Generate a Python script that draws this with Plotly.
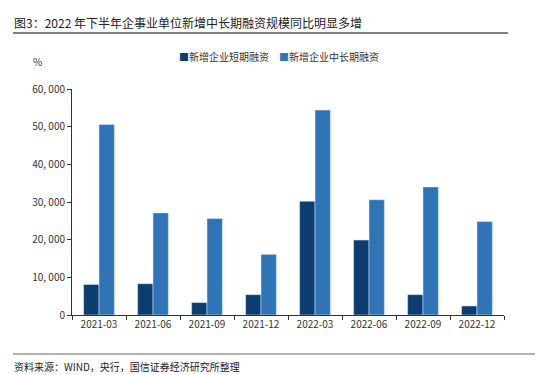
import plotly.graph_objects as go

categories = ["2021-03", "2021-06", "2021-09", "2021-12", "2022-03", "2022-06", "2022-09", "2022-12"]
short_term = [8100, 8300, 3300, 5400, 30200, 19900, 5400, 2400]
long_term = [50600, 27100, 25600, 16100, 54400, 30600, 34000, 24800]
y_tick_vals = [0, 10000, 20000, 30000, 40000, 50000, 60000]
y_tick_text = ["0", "10, 000", "20, 000", "30, 000", "40, 000", "50, 000", "60, 000"]
series_names = ["新增企业短期融资", "新增企业中长期融资"]
series_colors = ["#0B3D70", "#2F74B7"]

FONT = "Noto Sans CJK SC"
W, H = 550, 375
L, R, T, B = 72, 46, 89, 60
PW, PH = W - L - R, H - T - B


def px(x):
    return (x - L) / PW


def py(y):
    return (H - B - y) / PH


fig = go.Figure()
fig.add_trace(go.Bar(name=series_names[0], x=categories, y=short_term, marker_color=series_colors[0]))
fig.add_trace(go.Bar(name=series_names[1], x=categories, y=long_term, marker_color=series_colors[1]))

fig.update_layout(
    width=W, height=H,
    margin=dict(l=L, r=R, t=T, b=B, autoexpand=False),
    paper_bgcolor="white", plot_bgcolor="white",
    barmode="group", bargap=0.43, bargroupgap=0,
    font=dict(family=FONT, size=10, color="#333333"),
    showlegend=False,
    xaxis=dict(type="category", showline=True, linecolor="#333333", linewidth=1,
               ticks="outside", ticklen=4, tickcolor="#333333", tickson="boundaries",
               tickfont=dict(size=10, color="#333333"), showgrid=False, automargin=False),
    yaxis=dict(range=[0, 60000], tickvals=y_tick_vals, ticktext=y_tick_text,
               showline=True, linecolor="#333333", linewidth=1, ticks="outside", ticklen=4,
               tickcolor="#333333", showgrid=False, zeroline=False, automargin=False,
               tickfont=dict(size=10, color="#333333")),
)

# legend drawn as text entries
for name, color, xpos in zip(series_names, series_colors, [177, 277]):
    fig.add_annotation(text=f"<span style='color:{color}'>■</span>{name}", x=px(xpos), y=py(56),
                       xref="paper", yref="paper", xanchor="left", yanchor="middle", showarrow=False,
                       font=dict(size=10, color="#333333"))

fig.add_annotation(text="图3：2022 年下半年企事业单位新增中长期融资规模同比明显多增", x=px(12), y=py(22),
                   xref="paper", yref="paper", xanchor="left", yanchor="middle", showarrow=False,
                   font=dict(size=12, color="#222222"))
fig.add_annotation(text="%", x=px(37), y=py(61), xref="paper", yref="paper",
                   xanchor="center", yanchor="middle", showarrow=False, font=dict(size=10, color="#333333"))
fig.add_annotation(text="资料来源：WIND，央行，国信证券经济研究所整理", x=px(12), y=py(366),
                   xref="paper", yref="paper", xanchor="left", yanchor="middle", showarrow=False,
                   font=dict(size=10, color="#222222"))
fig.add_shape(type="line", xref="paper", yref="paper", x0=px(13), x1=px(508), y0=py(33), y1=py(33),
              line=dict(color="#555555", width=1.5))
fig.add_shape(type="line", xref="paper", yref="paper", x0=px(13), x1=px(535), y0=py(354), y1=py(354),
              line=dict(color="#666666", width=1))
fig.write_html("out.html", post_script="document.body.style.margin='0';",
               config={"displayModeBar": False})
